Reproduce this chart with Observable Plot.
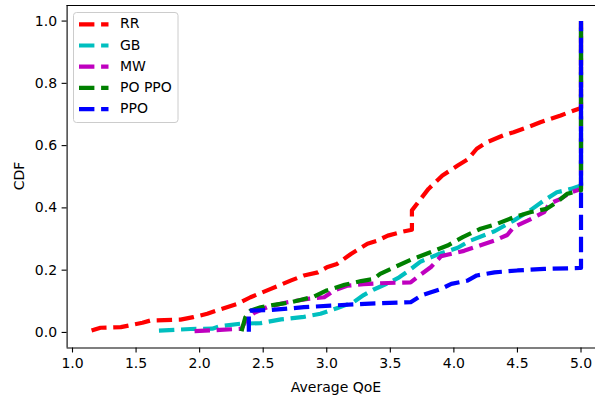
<!DOCTYPE html>
<html><head><meta charset="utf-8">
<script src="https://cdn.jsdelivr.net/npm/d3@7"></script>
<script src="https://cdn.jsdelivr.net/npm/@observablehq/plot@0.6"></script>
<style>body{margin:0;overflow:hidden;background:#fff}</style>
</head><body><div id="chart"></div>
<script>
const seriesNames = ["RR", "GB", "MW", "PO PPO", "PPO"];
const seriesColors = ["#ff0000", "#00bfbf", "#bf00bf", "#008000", "#0000ff"];

const rrX = [1.15,1.22,1.38,1.55,1.61,1.85,1.95,2.06,2.16,2.30,2.40,2.56,2.72,2.82,2.93,3.00,3.08,3.19,3.32,3.40,3.48,3.58,3.67,3.67,3.73,3.80,3.91,4.03,4.11,4.18,4.26,4.39,4.47,4.58,4.68,4.84,5.0,5.0];
const rrY = [0.006,0.015,0.017,0.031,0.038,0.041,0.049,0.060,0.074,0.092,0.113,0.140,0.167,0.183,0.193,0.209,0.220,0.252,0.285,0.295,0.311,0.322,0.330,0.392,0.424,0.461,0.504,0.536,0.556,0.590,0.611,0.633,0.643,0.659,0.675,0.697,0.721,1.0];

const gbX = [1.68,1.93,2.10,2.16,2.32,2.48,2.64,2.82,2.95,3.08,3.21,3.29,3.37,3.48,3.57,3.65,3.74,3.87,4.03,4.13,4.32,4.47,4.60,4.71,4.81,4.92,5.0,5.0];
const gbY = [0.006,0.011,0.012,0.020,0.028,0.030,0.042,0.050,0.060,0.078,0.097,0.120,0.138,0.158,0.177,0.200,0.228,0.250,0.272,0.295,0.325,0.359,0.392,0.424,0.450,0.461,0.472,1.0];

const mwX = [1.96,2.16,2.33,2.37,2.43,2.53,2.69,2.85,2.98,3.06,3.16,3.29,3.42,3.66,3.71,3.82,3.90,4.08,4.21,4.32,4.42,4.47,4.58,4.71,4.75,4.84,4.92,5.0,5.0];
const mwY = [0.004,0.008,0.012,0.044,0.063,0.081,0.097,0.108,0.113,0.135,0.150,0.155,0.158,0.161,0.177,0.210,0.245,0.262,0.280,0.295,0.313,0.338,0.359,0.386,0.413,0.429,0.450,0.461,1.0];

const poX = [2.33,2.34,2.36,2.40,2.48,2.61,2.72,2.80,2.90,3.00,3.14,3.27,3.37,3.42,3.53,3.66,3.80,3.95,4.07,4.21,4.34,4.47,4.60,4.73,4.81,4.89,5.0,5.0];
const poY = [0.004,0.020,0.049,0.070,0.081,0.090,0.097,0.105,0.115,0.135,0.153,0.165,0.172,0.188,0.209,0.233,0.255,0.279,0.306,0.333,0.349,0.370,0.386,0.397,0.418,0.445,0.456,1.0];

const ppoX = [2.387,2.387,2.56,2.82,3.03,3.30,3.66,3.74,3.82,3.90,3.98,4.11,4.18,4.32,4.50,4.71,4.99,5.0,5.0];
const ppoY = [0.002,0.070,0.072,0.081,0.086,0.092,0.097,0.118,0.129,0.140,0.156,0.167,0.183,0.193,0.199,0.204,0.207,0.207,1.0];

const xTicks = [1.0,1.5,2.0,2.5,3.0,3.5,4.0,4.5,5.0];
const yTicks = [0.0,0.2,0.4,0.6,0.8,1.0];
const xLabel = "Average QoE";
const yLabel = "CDF";

const allSeries = [[rrX,rrY],[gbX,gbY],[mwX,mwY],[poX,poY],[ppoX,ppoY]];
const rows = [];
allSeries.forEach(([xs, ys], i) => xs.forEach((x, j) => rows.push({series: seriesNames[i], x, y: ys[j]})));

const W = 595, H = 396, mL = 66.6, mT = 5, mB = 48.5;
const xDom = [0.9575, 5.114], yDom = [-0.05, 1.05];
const dash = "15.4,6.7";

const svg = Plot.plot({
  width: W, height: H,
  marginLeft: mL, marginTop: mT, marginBottom: mB, marginRight: 0,
  style: {fontFamily: "'DejaVu Sans', sans-serif", fontSize: "14px", color: "#000", background: "#fff", overflow: "hidden"},
  x: {domain: xDom},
  y: {domain: yDom},
  color: {domain: seriesNames, range: seriesColors},
  marks: [
    Plot.line(rows, {x: "x", y: "y", z: "series", stroke: "series", strokeWidth: 4.2, strokeDasharray: dash, strokeLinecap: "butt", strokeLinejoin: "round"}),
    Plot.axisX({ticks: xTicks, tickSize: 5, tickPadding: 5, tickFormat: d3.format(".1f"), label: null, strokeWidth: 1.1}),
    Plot.axisY({ticks: yTicks, tickSize: 5, tickPadding: 5, tickFormat: d3.format(".1f"), label: null, strokeWidth: 1.1}),
    Plot.ruleY([yDom[0]], {strokeWidth: 1.1}),
    Plot.ruleY([yDom[1]], {strokeWidth: 1.1}),
    Plot.ruleX([xDom[0]], {strokeWidth: 1.1})
  ]
});

const s = d3.select(svg);
s.append("text").attr("x", 336).attr("y", 388).attr("text-anchor", "middle").attr("dominant-baseline", "middle")
  .attr("fill", "#000").attr("font-size", 14).text(xLabel);
s.append("text").attr("transform", "translate(20,176) rotate(-90)").attr("text-anchor", "middle").attr("dominant-baseline", "middle")
  .attr("fill", "#000").attr("font-size", 14).text(yLabel);

const lg = s.append("g");
lg.append("rect").attr("x", 73.5).attr("y", 12.5).attr("width", 104.5).attr("height", 110).attr("rx", 3)
  .attr("fill", "#fff").attr("fill-opacity", 0.8).attr("stroke", "#cccccc").attr("stroke-width", 1);
seriesNames.forEach((name, i) => {
  const cy = 24.3 + i * 21.2;
  lg.append("line").attr("x1", 79).attr("x2", 108.5).attr("y1", cy).attr("y2", cy)
    .attr("stroke", seriesColors[i]).attr("stroke-width", 4.2).attr("stroke-dasharray", dash);
  lg.append("text").attr("x", 120).attr("y", cy).attr("text-anchor", "start").attr("dominant-baseline", "middle")
    .attr("fill", "#000").attr("font-size", 14).text(name);
});

document.getElementById("chart").appendChild(svg);
</script>
</body></html>
